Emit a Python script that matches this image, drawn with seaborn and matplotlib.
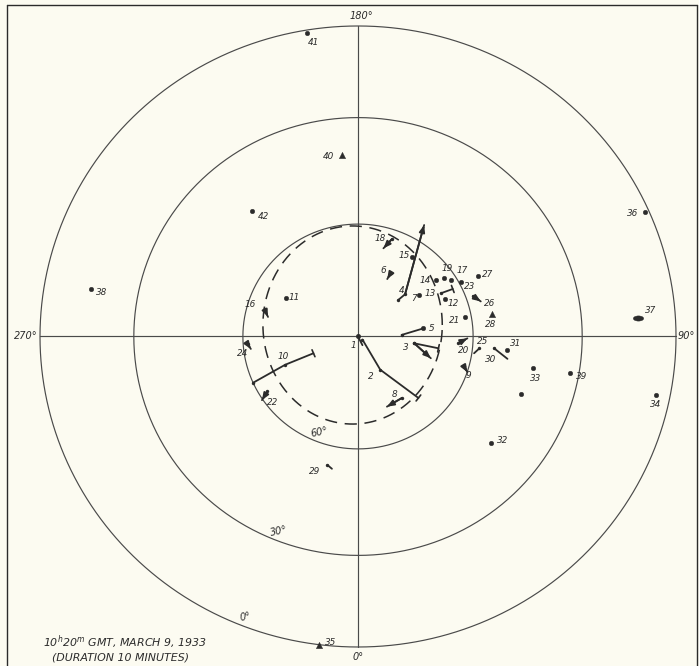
import numpy as np
import pandas as pd
import matplotlib
matplotlib.use("Agg")
import matplotlib.pyplot as plt
from matplotlib.lines import Line2D
from matplotlib.markers import MarkerStyle
from matplotlib.transforms import Affine2D
import seaborn as sns

sns.set_theme(style="white")
plt.rcParams["font.family"] = ["DejaVu Sans"]

INK = "#2b2b2b"
GRID = "#4a4a4a"
PAPER = "#fcfbf1"

# Elevation circles (deg) and their plotted radius (horizon = 1)
circle_elev = [0, 30, 60]
circle_radius = [1.0, 0.705, 0.362]

# Azimuth labels
azimuth_labels = ["0°", "90°", "180°", "270°"]

# Single-point meteors: east (x) / north (y) in horizon radii
point_ids = [1, 5, 7, 11, 12, 14, 15, 17, 19, 21, 23, 27, 28, 31, 32, 33, 34,
             35, 36, 37, 38, 39, 40, 41, 42, 0]
point_x = [0.000, 0.205, 0.193, -0.228, 0.274, 0.245, 0.169, 0.292, 0.271, 0.337,
           0.323, 0.376, 0.421, 0.468, 0.419, 0.551, 0.938, -0.122, 0.904, 0.882,
           -0.840, 0.667, -0.049, -0.159, -0.333, 0.513]
point_y = [0.000, 0.026, 0.134, 0.125, 0.120, 0.182, 0.257, 0.182, 0.188, 0.063,
           0.174, 0.196, 0.074, -0.042, -0.344, -0.102, -0.188, -0.992, 0.401, 0.060,
           0.153, -0.116, 0.585, 0.979, 0.404, -0.184]

# Meteor trails (tail -> head), one row per vertex
trail_part = ["1", "1",
              "2", "2", "2",
              "3a", "3a", "3b", "3b",
              "4", "4", "4",
              "5", "5",
              "6", "6",
              "8", "8",
              "9", "9",
              "10", "10", "10",
              "13", "13",
              "16", "16",
              "18", "18",
              "20", "20",
              "22", "22",
              "24", "24",
              "25", "25",
              "26", "26",
              "29", "29",
              "30", "30"]
trail_x = [0.000, 0.014,
           0.014, 0.070, 0.190,
           0.177, 0.229, 0.177, 0.253,
           0.127, 0.148, 0.208,
           0.137, 0.205,
           0.103, 0.092,
           0.138, 0.091,
           0.333, 0.344,
           -0.330, -0.229, -0.140,
           0.260, 0.298,
           -0.294, -0.283,
           0.106, 0.080,
           0.316, 0.344,
           -0.285, -0.302,
           -0.347, -0.337,
           0.382, 0.365,
           0.362, 0.386,
           -0.096, -0.082,
           0.428, 0.470]
trail_y = [0.000, -0.028,
           -0.010, -0.107, -0.198,
           -0.022, -0.070, -0.022, -0.038,
           0.118, 0.136, 0.359,
           0.005, 0.026,
           0.204, 0.185,
           -0.198, -0.226,
           -0.096, -0.115,
           -0.149, -0.091, -0.054,
           0.139, 0.153,
           0.088, 0.063,
           0.313, 0.284,
           -0.021, -0.006,
           -0.177, -0.205,
           -0.025, -0.040,
           -0.038, -0.054,
           0.130, 0.113,
           -0.414, -0.426,
           -0.038, -0.072]

# Auroral oval (dashed): centre, semi-axes
oval_center = (-0.017, 0.037)
oval_axes = (0.282, 0.319)

pts = pd.DataFrame({"id": point_ids, "x": point_x, "y": point_y})
trails = pd.DataFrame({"part": trail_part, "x": trail_x, "y": trail_y})

# ---------------------------------------------------------------- styling
ARROW_PARTS = ["3a", "4", "8", "20", "18", "6", "26", "9", "22", "16", "24"]
TICK_PARTS = ["2", "3b", "10", "13"]
TRIANGLES = [35, 28, 40]
BLOBS = [37]
LABEL_OFFSET = {
    1: (-5, -9), 2: (-9, -7), 3: (-8, -4), 4: (3, 9), 5: (8, 0), 6: (-8, 3),
    7: (-5, -4), 8: (-7, 3), 9: (5, -9), 10: (-2, 8), 11: (9, 0), 12: (8, -4),
    13: (-10, 0), 14: (-11, -1), 15: (-8, 1), 16: (-14, 5), 17: (11, 9),
    18: (-12, 1), 19: (3, 10), 20: (5, -7), 21: (-11, -4), 22: (11, -2),
    23: (9, -4), 24: (-5, -9), 25: (3, 7), 26: (9, -2), 27: (10, 1),
    28: (-1, -11), 29: (-13, -6), 30: (-4, -11), 31: (9, 6), 32: (11, 3),
    33: (2, -10), 34: (-1, -10), 35: (11, 2), 36: (-13, -2), 37: (12, 7),
    38: (11, -4), 39: (11, -4), 40: (-14, -2), 41: (6, -10), 42: (11, -5),
}
LABEL_ANCHOR_PART = {2: ("2", 1), 3: ("3a", 0), 4: ("4", 0), 6: ("6", 0),
                     8: ("8", 0), 9: ("9", 0), 10: ("10", 1), 13: ("13", 0),
                     16: ("16", 0), 18: ("18", 0), 20: ("20", 0), 22: ("22", 1),
                     24: ("24", 0), 25: ("25", 0), 26: ("26", 1), 29: ("29", 0),
                     30: ("30", 0)}

W, H = 699, 666
fig = plt.figure(figsize=(W / 100, H / 100), dpi=100, facecolor=PAPER)
ax = fig.add_axes([0, 0, 1, 1])
ax.set_facecolor(PAPER)
ax.set_xlim(-1.1258, 1.0723)
ax.set_ylim(-1.0612, 1.0837)
ax.set_axis_off()

# elevation circles
t = np.linspace(0, 2 * np.pi, 721)
for r in circle_radius:
    ax.plot(r * np.cos(t), r * np.sin(t), color=GRID, lw=0.85, zorder=1)

# cross hairs
ax.plot([-1, 1], [0, 0], color=GRID, lw=0.85, zorder=1)
ax.plot([0, 0], [-1, 1], color=GRID, lw=0.85, zorder=1)

# dashed oval
ax.plot(oval_center[0] + oval_axes[0] * np.cos(t),
        oval_center[1] + oval_axes[1] * np.sin(t),
        color=INK, lw=1.1, ls=(0, (8, 5)), zorder=1)

# trails
sns.lineplot(data=trails, x="x", y="y", units="part", estimator=None, sort=False,
             color=INK, lw=1.3, ax=ax, legend=False, zorder=3)

for part, g in trails.groupby("part", sort=False):
    xs, ys = g["x"].to_numpy(), g["y"].to_numpy()
    if part in ARROW_PARTS:
        ax.annotate("", xy=(xs[-1], ys[-1]), xytext=(xs[-2], ys[-2]),
                    arrowprops=dict(arrowstyle="-|>,head_length=0.35,head_width=0.14",
                                    color=INK, lw=1.3, shrinkA=0, shrinkB=0),
                    zorder=4)
    if part in TICK_PARTS:
        dx, dy = xs[-1] - xs[-2], ys[-1] - ys[-2]
        n = np.hypot(dx, dy)
        px, py = -dy / n * 0.012, dx / n * 0.012
        ax.plot([xs[-1] - px, xs[-1] + px], [ys[-1] - py, ys[-1] + py],
                color=INK, lw=1.2, zorder=3)
    # small node at vertices
    ax.scatter(xs[:-1], ys[:-1], s=6, color=INK, zorder=4, linewidths=0)

# point meteors
dots = pts[~pts["id"].isin(TRIANGLES + BLOBS)]
tris = pts[pts["id"].isin(TRIANGLES)]
blobs = pts[pts["id"].isin(BLOBS)]
sns.scatterplot(data=dots, x="x", y="y", s=11, color=INK, edgecolor=None,
                ax=ax, legend=False, zorder=5)
sns.scatterplot(data=tris, x="x", y="y", s=20, marker="^", color=INK,
                edgecolor=None, ax=ax, legend=False, zorder=5)
sns.scatterplot(data=blobs, x="x", y="y", s=14,
                marker=MarkerStyle("o", transform=Affine2D().scale(2.0, 1.0)),
                color=INK, edgecolor=None, ax=ax, legend=False, zorder=5)

# number labels
anchors = {int(i): (x, y) for i, x, y in zip(pts["id"], pts["x"], pts["y"]) if i != 0}
for num, (part, k) in LABEL_ANCHOR_PART.items():
    g = trails[trails["part"] == part]
    anchors[num] = (g["x"].iloc[k], g["y"].iloc[k])
for num, (ox, oy) in LABEL_OFFSET.items():
    if num not in anchors:
        continue
    ax.annotate(str(num), xy=anchors[num], xytext=(ox, oy),
                textcoords="offset pixels", ha="center", va="center",
                fontsize=6.4, style="italic", color=INK, zorder=6)

# elevation labels along azimuth ~338.5 deg
lab_az = np.deg2rad(338.5)
for elev, r in zip(circle_elev, circle_radius):
    rr = r - 0.03
    ax.text(rr * np.sin(lab_az), -rr * np.cos(lab_az), f"{elev}°",
            ha="center", va="center", fontsize=7, style="italic", color=INK,
            rotation=12)

# azimuth labels
ax.text(0.0, -1.015, azimuth_labels[0], ha="center", va="top", fontsize=7,
        style="italic", color=INK)
ax.text(1.005, 0.0, azimuth_labels[1], ha="left", va="center", fontsize=7,
        style="italic", color=INK)
ax.text(0.01, 1.015, azimuth_labels[2], ha="center", va="bottom", fontsize=7,
        style="italic", color=INK)
ax.text(-1.008, 0.0, azimuth_labels[3], ha="right", va="center", fontsize=7,
        style="italic", color=INK)

# caption
fig.text(43 / W, 1 - 642 / H, r"10$^{h}$20$^{m}$ GMT, MARCH 9, 1933",
         ha="left", va="center", fontsize=7.9, style="italic", color=INK)
fig.text(52 / W, 1 - 657 / H, "(DURATION 10 MINUTES)",
         ha="left", va="center", fontsize=7.9, style="italic", color=INK)

# plate border
fig.add_artist(Line2D([7 / W, 697 / W], [1 - 5 / H, 1 - 5 / H], color=INK, lw=1.0))
fig.add_artist(Line2D([7 / W, 7 / W], [0, 1 - 5 / H], color=INK, lw=1.0))
fig.add_artist(Line2D([697 / W, 697 / W], [0, 1 - 5 / H], color=INK, lw=1.0))

fig.savefig("out.png", dpi=100, facecolor=PAPER)
